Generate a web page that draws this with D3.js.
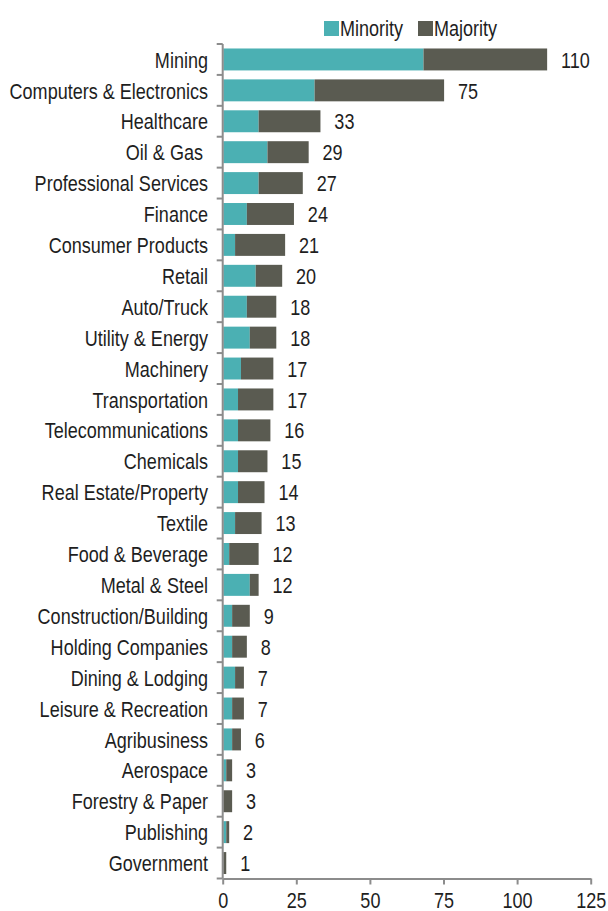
<!DOCTYPE html>
<html>
<head>
<meta charset="utf-8">
<script src="https://cdn.jsdelivr.net/npm/d3@7"></script>
<style>
  html, body { margin: 0; padding: 0; background: #fff; }
  svg { display: block; }
  text { font-family: "Liberation Sans", Arial, sans-serif; }
</style>
</head>
<body>
<svg id="chart" width="608" height="911"></svg>
<script>
// Industries, top to bottom
const categories = [
  "Mining", "Computers & Electronics", "Healthcare", "Oil & Gas ", "Professional Services",
  "Finance", "Consumer Products", "Retail", "Auto/Truck", "Utility & Energy",
  "Machinery", "Transportation", "Telecommunications", "Chemicals", "Real Estate/Property",
  "Textile", "Food & Beverage", "Metal & Steel", "Construction/Building", "Holding Companies",
  "Dining & Lodging", "Leisure & Recreation", "Agribusiness", "Aerospace", "Forestry & Paper",
  "Publishing", "Government"
];
const minority = [68, 31, 12, 15, 12, 8, 4, 11, 8, 9, 6, 5, 5, 5, 5, 4, 2, 9, 3, 3, 4, 3, 3, 1, 0, 1, 0];
const majority = [42, 44, 21, 14, 15, 16, 17, 9, 10, 9, 11, 12, 11, 10, 9, 9, 10, 3, 6, 5, 3, 4, 3, 2, 3, 1, 1];
const seriesNames = ["Minority", "Majority"];
const xTicks = [0, 25, 50, 75, 100, 125];

const colors = { Minority: "#4bb0b3", Majority: "#5a5b51" };
const axisColor = "#8c8c8c";
const textColor = "#1e1e1e";
const fontSize = 22;
const narrow = 0.82;   // horizontal squeeze to get a narrow face

const svg = d3.select("#chart");
const x0 = 222.7, x1 = 590.7, yTop = 44, yBottom = 878.5;

const x = d3.scaleLinear().domain([0, 125]).range([x0, x1]);
const y = d3.scaleBand().domain(categories).range([yTop, yBottom]).paddingInner(0.29).paddingOuter(0.145);

const rows = categories.map((c, i) => ({ cat: c, Minority: minority[i], Majority: majority[i] }));
const stack = d3.stack().keys(seriesNames)(rows);

// stacked bars
svg.append("g").selectAll("g").data(stack).join("g")
  .attr("fill", d => colors[d.key])
  .selectAll("rect").data(d => d).join("rect")
  .attr("x", d => x(d[0]) + 0.6)
  .attr("width", d => Math.max(0, x(d[1]) - x(d[0])))
  .attr("y", d => y(d.data.cat))
  .attr("height", y.bandwidth());

// places a narrow text at (px, py)
function narrowText(sel, px, py) {
  return sel
    .attr("transform", (d, i) => `translate(${px(d, i)},${py(d, i)}) scale(${narrow},1)`)
    .attr("font-size", fontSize)
    .attr("fill", textColor);
}

// total value labels
svg.append("g").selectAll("text").data(rows).join("text")
  .call(narrowText, d => x(d.Minority + d.Majority) + 14.5, d => y(d.cat) + y.bandwidth() / 2)
  .attr("dy", "0.37em")
  .text(d => d.Minority + d.Majority);

// category axis: ticks at band boundaries
const yAxis = svg.append("g");
yAxis.append("line")
  .attr("x1", x0).attr("x2", x0).attr("y1", yTop).attr("y2", yBottom)
  .attr("stroke", axisColor).attr("stroke-width", 2);
yAxis.selectAll("line.tick").data(d3.range(categories.length + 1)).join("line")
  .attr("class", "tick")
  .attr("x1", x0 - 6).attr("x2", x0)
  .attr("y1", i => yTop + i * (yBottom - yTop) / categories.length)
  .attr("y2", i => yTop + i * (yBottom - yTop) / categories.length)
  .attr("stroke", axisColor).attr("stroke-width", 2);
yAxis.selectAll("text").data(categories).join("text")
  .call(narrowText, () => 208, d => y(d) + y.bandwidth() / 2)
  .attr("dy", "0.37em")
  .attr("text-anchor", "end")
  .style("white-space", "pre")
  .text(d => d);

// value axis
const xAxis = svg.append("g").attr("transform", `translate(0,${yBottom})`)
  .call(d3.axisBottom(x).tickValues(xTicks).tickSize(6).tickPadding(8).tickSizeOuter(0));
xAxis.select(".domain").attr("stroke", axisColor).attr("stroke-width", 2);
xAxis.selectAll(".tick line").attr("stroke", axisColor).attr("stroke-width", 2);
xAxis.selectAll(".tick text")
  .attr("font-size", fontSize)
  .attr("font-family", "\"Liberation Sans\", Arial, sans-serif")
  .attr("transform", `scale(${narrow},1)`)
  .attr("fill", textColor);

// legend
const legend = svg.append("g");
const legendX = [324, 418];
seriesNames.forEach((name, i) => {
  legend.append("rect")
    .attr("x", legendX[i]).attr("y", 21).attr("width", 15).attr("height", 15)
    .attr("fill", colors[name]);
  legend.append("text")
    .datum(name)
    .call(narrowText, () => legendX[i] + 16, () => 35.7)
    .text(name);
});
</script>
</body>
</html>
